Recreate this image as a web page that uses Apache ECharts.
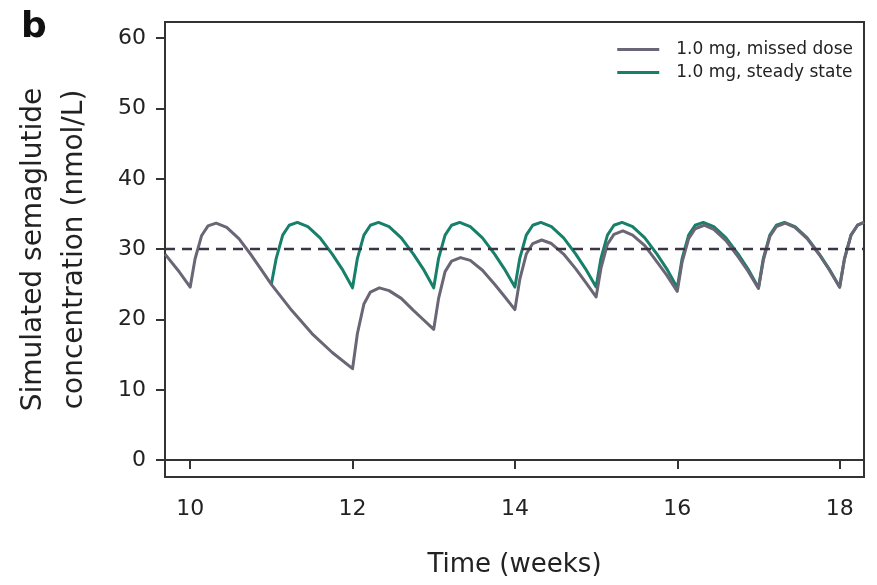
<!DOCTYPE html>
<html>
<head>
<meta charset="utf-8">
<script src="https://cdn.jsdelivr.net/npm/echarts@6/dist/echarts.min.js"></script>
<style>
html,body{margin:0;padding:0;background:#fff;}
#c{width:877px;height:585px;}
</style>
</head>
<body>
<div id="c"></div>
<script>
// ---- data ----
const xTicks = [10, 12, 14, 16, 18];
const yTicks = [0, 10, 20, 30, 40, 50, 60];
const targetLevel = 30;

const missedTime = [9.69, 9.85, 10.0, 10.06, 10.14, 10.22, 10.32, 10.45, 10.6, 10.75, 10.87,
  11.0, 11.25, 11.5, 11.75,
  12.0, 12.06, 12.14, 12.22, 12.33, 12.45, 12.6, 12.75, 12.87,
  13.0, 13.06, 13.14, 13.22, 13.33, 13.45, 13.6, 13.75, 13.87,
  14.0, 14.06, 14.14, 14.22, 14.33, 14.45, 14.6, 14.75, 14.87,
  15.0, 15.06, 15.14, 15.22, 15.33, 15.45, 15.6, 15.75, 15.87,
  16.0, 16.06, 16.14, 16.22, 16.33, 16.45, 16.6, 16.75, 16.87,
  17.0, 17.06, 17.14, 17.22, 17.33, 17.45, 17.6, 17.75, 17.87,
  18.0, 18.06, 18.14, 18.22, 18.3];
const missedConc = [29.3, 27.0, 24.6, 28.6, 31.9, 33.3, 33.7, 33.1, 31.5, 29.2, 27.2,
  25.0, 21.3, 18.0, 15.3,
  13.0, 18.0, 22.2, 23.9, 24.5, 24.1, 23.0, 21.3, 20.0,
  18.6, 23.0, 26.8, 28.3, 28.8, 28.4, 27.0, 25.0, 23.3,
  21.4, 25.7, 29.3, 30.8, 31.3, 30.8, 29.3, 27.2, 25.3,
  23.2, 27.3, 30.7, 32.1, 32.6, 32.0, 30.5, 28.2, 26.3,
  24.0, 28.2, 31.5, 32.9, 33.4, 32.8, 31.2, 28.9, 26.9,
  24.4, 28.4, 31.8, 33.2, 33.7, 33.1, 31.5, 29.2, 27.1,
  24.6, 28.6, 32.0, 33.4, 33.8];

const steadyTime = [11.0, 11.06, 11.14, 11.22, 11.32, 11.45, 11.6, 11.75, 11.87,
  12.0, 12.06, 12.14, 12.22, 12.32, 12.45, 12.6, 12.75, 12.87,
  13.0, 13.06, 13.14, 13.22, 13.32, 13.45, 13.6, 13.75, 13.87,
  14.0, 14.06, 14.14, 14.22, 14.32, 14.45, 14.6, 14.75, 14.87,
  15.0, 15.06, 15.14, 15.22, 15.32, 15.45, 15.6, 15.75, 15.87,
  16.0, 16.06, 16.14, 16.22, 16.32, 16.45, 16.6, 16.75, 16.87,
  17.0, 17.06, 17.14, 17.22, 17.32, 17.45, 17.6, 17.75, 17.87,
  18.0, 18.06, 18.14, 18.22, 18.3];
const steadyConc = [25.0, 28.7, 32.0, 33.4, 33.8, 33.2, 31.6, 29.3, 27.2,
  24.5, 28.7, 32.0, 33.4, 33.8, 33.2, 31.6, 29.3, 27.2,
  24.5, 28.7, 32.0, 33.4, 33.8, 33.2, 31.6, 29.3, 27.2,
  24.6, 28.7, 32.0, 33.4, 33.8, 33.2, 31.6, 29.3, 27.2,
  24.6, 28.7, 32.0, 33.4, 33.8, 33.2, 31.6, 29.3, 27.2,
  24.5, 28.7, 32.0, 33.4, 33.8, 33.2, 31.6, 29.3, 27.2,
  24.5, 28.7, 32.0, 33.4, 33.8, 33.2, 31.6, 29.3, 27.2,
  24.6, 28.7, 32.0, 33.4, 33.8];

const seriesNames = ['1.0 mg, missed dose', '1.0 mg, steady state'];

// ---- chart ----
const FONT = 'DejaVu Sans';
const INK = '#222222';
const AXIS = '#333333';
const zip = (a, b) => a.map((v, i) => [v, b[i]]);

const chart = echarts.init(document.getElementById('c'), null, {renderer: 'canvas'});
chart.setOption({
  animation: false,
  backgroundColor: '#ffffff',
  textStyle: {fontFamily: FONT},
  graphic: [{
    type: 'text', left: 21, top: 10,
    style: {text: 'b', font: 'bold 36px "DejaVu Sans"', fill: '#111'}
  }],
  grid: {left: 165, right: 13, top: 22, bottom: 108, show: true,
         borderColor: AXIS, borderWidth: 2, backgroundColor: 'transparent'},
  legend: {
    orient: 'vertical', right: 19, top: 36, itemGap: 6,
    icon: 'rect', itemWidth: 42, itemHeight: 3,
    data: seriesNames,
    textStyle: {fontFamily: FONT, fontSize: 17, color: INK, padding: [0, 0, 0, 12]}
  },
  xAxis: {
    type: 'value', min: 9.69, max: 18.3,
    name: 'Time (weeks)', nameLocation: 'middle', nameGap: 75,
    nameTextStyle: {fontFamily: FONT, fontSize: 26, color: INK},
    axisLine: {show: true, lineStyle: {color: AXIS, width: 2}},
    axisTick: {show: true, length: 9, customValues: xTicks, lineStyle: {color: AXIS, width: 2}},
    axisLabel: {customValues: xTicks, margin: 21, fontFamily: FONT, fontSize: 22, color: INK},
    splitLine: {show: false}
  },
  yAxis: {
    type: 'value', min: -2.4, max: 62.3,
    name: 'Simulated semaglutide\nconcentration (nmol/L)', nameLocation: 'middle', nameGap: 70,
    nameRotate: 90,
    nameTextStyle: {fontFamily: FONT, fontSize: 28, color: INK, lineHeight: 41},
    axisLine: {show: true, lineStyle: {color: AXIS, width: 2}},
    axisTick: {show: true, length: 9, customValues: yTicks, lineStyle: {color: AXIS, width: 2}},
    axisLabel: {customValues: yTicks, margin: 19, fontFamily: FONT, fontSize: 22, color: INK},
    splitLine: {show: false}
  },
  series: [
    {
      name: seriesNames[1], type: 'line', data: zip(steadyTime, steadyConc),
      showSymbol: false, smooth: false, color: '#17806a',
      lineStyle: {width: 3, color: '#17806a', join: 'round'}
    },
    {
      name: seriesNames[0], type: 'line', data: zip(missedTime, missedConc),
      showSymbol: false, smooth: false, color: '#6a6675',
      lineStyle: {width: 3, color: '#6a6675', join: 'round'},
      markLine: {
        silent: true, symbol: 'none', label: {show: false},
        lineStyle: {type: [10, 7], color: '#3a3444', width: 2.4},
        data: [{yAxis: targetLevel}]
      }
    }
  ]
});
</script>
</body>
</html>
